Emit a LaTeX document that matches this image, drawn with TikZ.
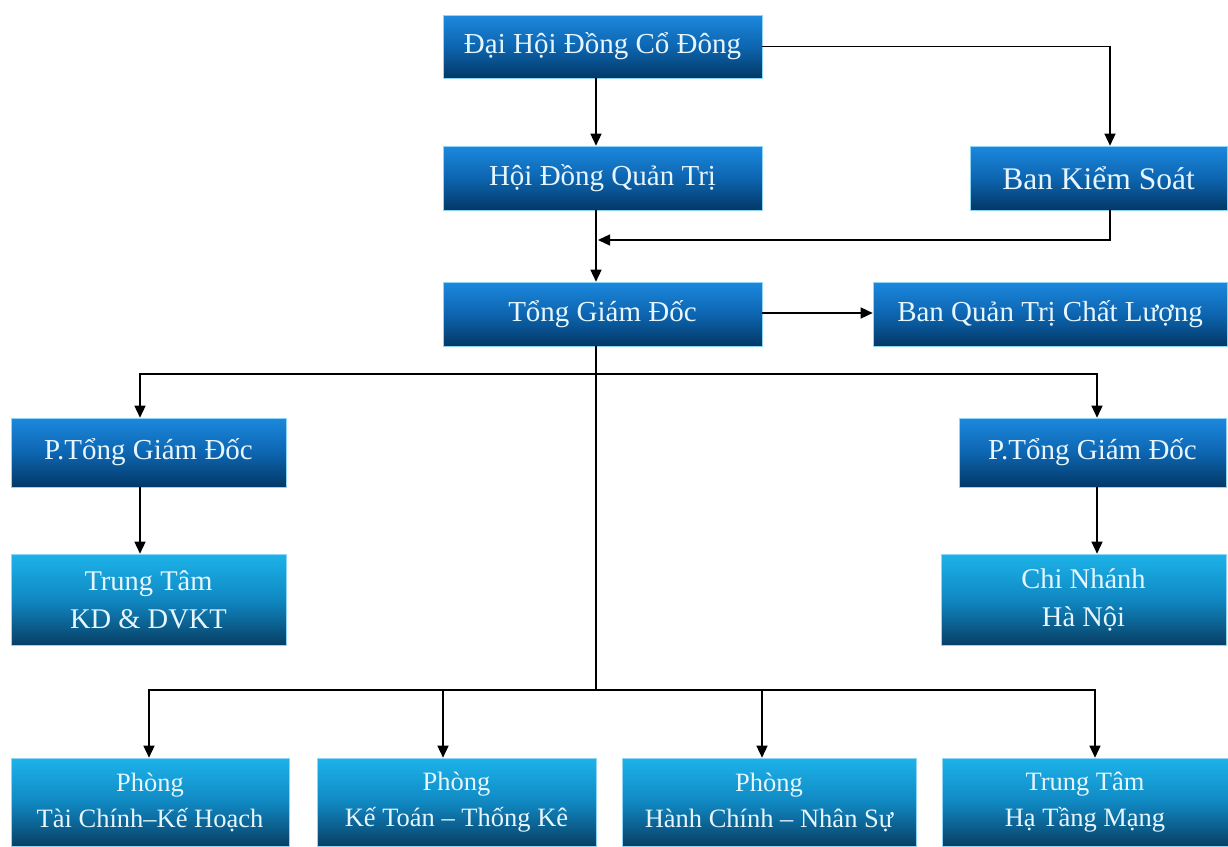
\documentclass[tikz,border=0pt]{standalone}
\usepackage{fontspec}
\setmainfont{Liberation Serif}
\usetikzlibrary{arrows.meta}
\definecolor{dtop}{HTML}{1C88DE}
\definecolor{dmid}{HTML}{0D65B0}
\definecolor{dbot}{HTML}{033866}
\definecolor{ltop}{HTML}{1DB3EA}
\definecolor{lmid}{HTML}{1088C2}
\definecolor{lbot}{HTML}{083F66}
\definecolor{txt}{HTML}{E6F6FF}
\definecolor{edge}{HTML}{8FD6F5}
\tikzset{
  darkbox/.style={draw=edge, line width=0.6pt, top color=dtop, bottom color=dbot, middle color=dmid,
    text=txt, align=center, inner sep=0pt, font=\fontsize{29}{35}\selectfont},
  lightbox/.style={draw=edge, line width=0.6pt, top color=ltop, bottom color=lbot, middle color=lmid,
    text=txt, align=center, inner sep=0pt, font=\fontsize{26.5}{36}\selectfont},
  conn/.style={draw=black, line width=1.4pt},
  arr/.style={conn, -{Triangle[length=12pt,width=11pt]}}
}
\begin{document}
\begin{tikzpicture}[x=1pt,y=-1pt]
\useasboundingbox (0,0) rectangle (1228,846);
\fill[white] (0,0) rectangle (1228,846);
% nodes
\node[darkbox, minimum width=319pt, minimum height=63pt] (dhd) at (602.5,46.5) {Đại Hội Đồng Cổ Đông};
\node[darkbox, minimum width=319pt, minimum height=64pt] (hdqt) at (602.5,178) {Hội Đồng Quản Trị};
\node[darkbox, minimum width=257pt, minimum height=64pt, font=\fontsize{31.5}{36}\selectfont] (bks) at (1098.5,178) {Ban Kiểm Soát};
\node[darkbox, minimum width=319pt, minimum height=64pt] (tgd) at (602.5,314) {Tổng Giám Đốc};
\node[darkbox, minimum width=354pt, minimum height=64pt] (bqt) at (1050,314) {Ban Quản Trị Chất Lượng};
\node[darkbox, minimum width=275pt, minimum height=69pt] (ptl) at (148.5,452.5) {P.Tổng Giám Đốc};
\node[darkbox, minimum width=267pt, minimum height=69pt] (ptr) at (1092.5,452.5) {P.Tổng Giám Đốc};
\node[lightbox, minimum width=275pt, minimum height=91pt, font=\fontsize{28.5}{38}\selectfont] (ttk) at (148.5,599.5) {Trung Tâm\\KD \& DVKT};
\node[lightbox, minimum width=285pt, minimum height=91pt, font=\fontsize{28.5}{38}\selectfont] (cnh) at (1083.5,599.5) {Chi Nhánh\\Hà Nội};
\node[lightbox, minimum width=278pt, minimum height=88pt] (b1) at (150,802) {Phòng\\Tài Chính–Kế Hoạch};
\node[lightbox, minimum width=279pt, minimum height=88pt] (b2) at (456.5,802) {Phòng\\Kế Toán – Thống Kê};
\node[lightbox, minimum width=294pt, minimum height=88pt] (b3) at (769,802) {Phòng\\Hành Chính – Nhân Sự};
\node[lightbox, minimum width=286pt, minimum height=88pt] (b4) at (1085,802) {Trung Tâm\\Hạ Tầng Mạng};
% helper coordinates
\coordinate (xa) at (596,0);
\coordinate (xk) at (1110,0);
\coordinate (ja) at (598,240);
\coordinate (r1) at (0,374);
\coordinate (r2) at (0,690);
\coordinate (xl) at (140,0);
\coordinate (xr) at (1097,0);
\coordinate (x1) at (149,0);
\coordinate (x2) at (443,0);
\coordinate (x3) at (762,0);
\coordinate (x4) at (1095,0);
% connectors
\draw[arr] (dhd.south -| xa) -- (hdqt.north -| xa);
\draw[arr] (dhd.east) -| (bks.north -| xk);
\draw[arr] (bks.south -| xk) |- (ja);
\draw[arr] (hdqt.south -| xa) -- (tgd.north -| xa);
\draw[arr] (tgd.east |- 0,313) -- (bqt.west |- 0,313);
\draw[conn] (tgd.south -| xa) -- (xa |- r2);
\draw[arr] (xa |- r1) -| (ptl.north -| xl);
\draw[arr] (xa |- r1) -| (ptr.north -| xr);
\draw[arr] (ptl.south -| xl) -- (ttk.north -| xl);
\draw[arr] (ptr.south -| xr) -- (cnh.north -| xr);
\draw[arr] (xa |- r2) -| (b1.north -| x1);
\draw[arr] (xa |- r2) -| (b2.north -| x2);
\draw[arr] (xa |- r2) -| (b3.north -| x3);
\draw[arr] (xa |- r2) -| (b4.north -| x4);
\end{tikzpicture}
\end{document}
